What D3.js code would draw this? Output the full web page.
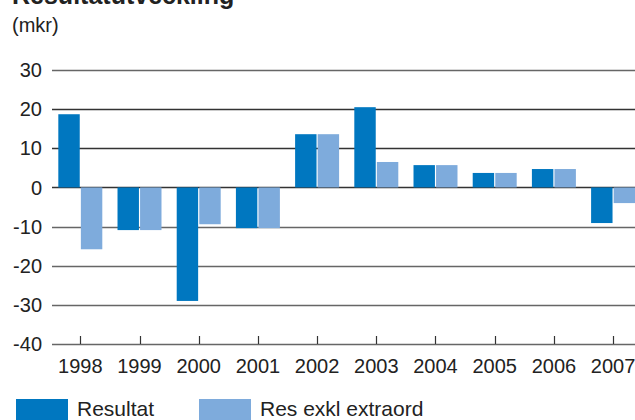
<!DOCTYPE html>
<html>
<head>
<meta charset="utf-8">
<script src="https://cdnjs.cloudflare.com/ajax/libs/d3/7.8.5/d3.min.js"></script>
<style>
  body{margin:0;background:#fff;}
  svg{display:block;font-family:"Liberation Sans",Arial,sans-serif;}
</style>
</head>
<body>
<svg width="635" height="420"></svg>
<script>
var years=['1998','1999','2000','2001','2002','2003','2004','2005','2006','2007'];
var resultat=[18.7,-10.9,-29.0,-10.4,13.6,20.5,5.7,3.7,4.7,-9.1];
var resExkl=[-15.8,-10.9,-9.4,-10.4,13.6,6.5,5.7,3.7,4.7,-4.0];
var yTicks=[30,20,10,0,-10,-20,-30,-40];
var seriesNames=['Resultat','Res exkl extraord'];
var colors=['#0077c0','#7eabdc'];

var drawGraph=function(){
  let svg=d3.select('body').select('svg');
  let margin={top:70,bottom:76,left:52,right:0};
  let plotBottom=420-margin.bottom;

  let yScale=d3.scaleLinear()
    .domain([-40,30])
    .range([plotBottom,margin.top]);

  let xScale=d3.scaleBand()
    .domain(years)
    .range([51.8,641.6])
    .paddingInner(0.257)
    .paddingOuter(0.11);

  let inner=d3.scaleBand()
    .domain([0,1])
    .range([0,xScale.bandwidth()])
    .paddingInner(0.05);

  // title (cut off at top like the original) and unit
  svg.append('text')
    .attr('x',12).attr('y',3.5)
    .attr('font-size',25).attr('font-weight','bold')
    .attr('fill','#222')
    .text('Resultatutveckling');
  svg.append('text')
    .attr('x',12).attr('y',32)
    .attr('font-size',20)
    .attr('fill','#222')
    .text('(mkr)');

  // grid
  let grid=svg.append('g').attr('id','grid');
  grid.selectAll('line')
    .data(yTicks)
    .enter().append('line')
    .attr('x1',margin.left).attr('x2',635)
    .attr('y1',function(d){return Math.round(yScale(d))+0.5;})
    .attr('y2',function(d){return Math.round(yScale(d))+0.5;})
    .attr('stroke',function(d){return (d>=0 && d<30)?'#333':'#666';})
    .attr('stroke-width',1.3);

  grid.selectAll('text')
    .data(yTicks)
    .enter().append('text')
    .attr('x',42)
    .attr('y',function(d){return yScale(d);})
    .attr('dy','0.36em')
    .attr('text-anchor','end')
    .attr('font-size',20)
    .attr('fill','#222')
    .text(function(d){return d;});

  // bars
  let series=[resultat,resExkl];
  series.forEach(function(vals,s){
    svg.append('g').selectAll('rect')
      .data(vals)
      .enter().append('rect')
      .attr('x',function(d,i){return xScale(years[i])+inner(s);})
      .attr('width',inner.bandwidth())
      .attr('y',function(d){return yScale(Math.max(0,d));})
      .attr('height',function(d){return Math.abs(yScale(d)-yScale(0));})
      .attr('fill',colors[s]);
  });

  // x axis ticks and labels
  let xAxis=svg.append('g').attr('id','x-axis');
  xAxis.selectAll('line')
    .data(years)
    .enter().append('line')
    .attr('x1',function(d){return Math.round(xScale(d)+xScale.bandwidth()/2)+0.5;})
    .attr('x2',function(d){return Math.round(xScale(d)+xScale.bandwidth()/2)+0.5;})
    .attr('y1',plotBottom-8).attr('y2',plotBottom)
    .attr('stroke','#333').attr('stroke-width',1.2);
  xAxis.selectAll('text')
    .data(years)
    .enter().append('text')
    .attr('x',function(d){return xScale(d)+xScale.bandwidth()/2;})
    .attr('y',373)
    .attr('text-anchor','middle')
    .attr('font-size',20)
    .attr('fill','#222')
    .text(function(d){return d;});

  // legend
  let legX=[16,199];
  let legend=svg.append('g').attr('id','legend');
  seriesNames.forEach(function(name,i){
    legend.append('rect')
      .attr('x',legX[i]).attr('y',399)
      .attr('width',52).attr('height',21)
      .attr('fill',colors[i]);
    legend.append('text')
      .attr('x',legX[i]+61).attr('y',416)
      .attr('font-size',21)
      .attr('fill','#222')
      .text(name);
  });
};

drawGraph();
</script>
</body>
</html>
